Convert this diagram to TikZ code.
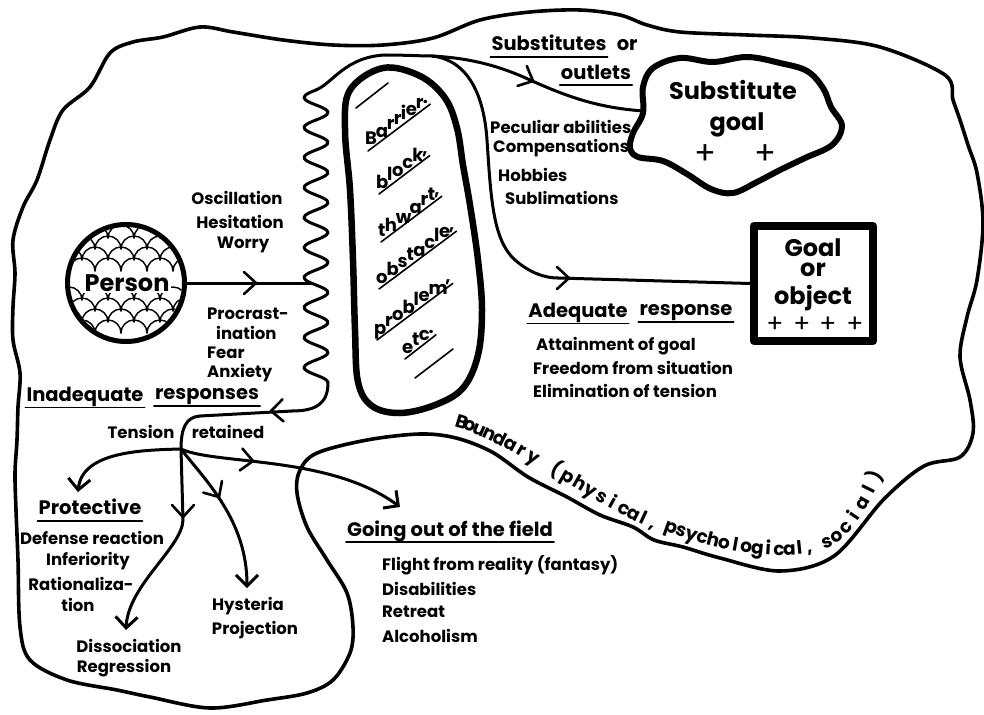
\documentclass[tikz,border=0pt]{standalone}
\usepackage{fontspec}
\setmainfont{Poppins}
\usetikzlibrary{arrows.meta,calc}
\tikzset{
  conn/.style={line width=3pt},
  tipend/.style={-{Straight Barb[length=11pt,width=22pt]}},
  barb/.pic={\draw[line width=2.6pt, line cap=round, line join=round] (-12pt,11pt) .. controls (-6pt,5pt) .. (0pt,0pt) .. controls (-6pt,-5pt) .. (-12pt,-11pt);},
  bndline/.style={line width=3.6pt},
  txts/.style={font=\fontsize{16.5}{19}\selectfont\bfseries, inner sep=1pt},
  txth/.style={font=\fontsize{19.5}{22}\selectfont\bfseries, inner sep=1pt},
  txtb/.style={font=\fontsize{24}{28}\selectfont\bfseries, inner sep=1pt},
  txtp/.style={font=\fontsize{32}{34}\selectfont, inner sep=0pt},
  txtq/.style={font=\fontsize{25}{27}\selectfont, inner sep=0pt},
  txtl/.style={font=\fontsize{18}{22}\selectfont\bfseries, inner sep=0pt},
  bdch/.style={font=\fontsize{18.5}{20}\selectfont\bfseries, inner sep=0pt, sloped, anchor=base},
  uline/.style={line width=1.6pt},
  scalearc/.style={line width=1.4pt},
}
% a word set letter by letter along a rising 36 degree line
\newcommand\stairword[3]{%
  \foreach \ch [count=\ci, remember=\ci as \cj (initially 0)] in {#3}{%
    \ifnum\ci=1
      \node[txtl, anchor=base west] (#1-\ci) at #2 {\ch};
    \else
      \path let \p1=(#1-\cj.base west), \p2=(#1-\cj.base east), \n1={\x2-\x1} in
        node[txtl, anchor=base west] (#1-\ci) at (\x1+0.87*\n1, \y1+0.63*\n1) {\ch};
    \fi
  }%
}
\begin{document}
\begin{tikzpicture}[x=1pt,y=-1pt, line cap=round, line join=round]
\useasboundingbox (0,0) rectangle (984,714);
\fill[white] (0,0) rectangle (984,714);

% outer boundary
\draw[bndline] plot[smooth cycle, tension=0.55] coordinates {
(420,434) (456,438) (492,452) (528,477) (567,497) (600,515) (633,527) (654,540) (683,547) (720,558) (780,571) (834,556) (884,499) (924,466) (960,457) (973,433) (970,400) (960,357) (967,317) (977,280) (983,223) (977,173) (968,145) (960,120) (953,100) (945,75) (880,47) (813,38) (747,35) (680,32) (647,25) (620,15) (580,10) (530,12) (480,20) (433,38) (383,45) (333,45) (283,40) (233,32) (200,27) (163,37) (133,42) (110,53) (90,87) (63,110) (50,140) (37,180) (23,207) (13,240) (15,273) (13,307) (13,340) (20,373) (18,407) (17,440) (15,473) (16,510) (18,560) (20,627) (30,660) (67,680) (117,690) (150,697) (210,708) (267,700) (307,693) (333,680) (350,653) (353,627) (347,593) (327,560) (307,527) (297,493) (300,470) (317,453) (367,440)};

% boundary label, letter by letter along the line
\foreach \c/\k in {B/1,o/2,u/3,n/4,d/5,a/6,r/7,y/8,{(}/10,p/11,h/12,y/13,s/14,i/15,c/16,a/17,l/18,{,}/19}{
  \path (456,427) .. controls (505,440) and (600,508) .. (655,530) node[bdch, pos={(\k-0.5)/19}] {\c};
}
\foreach \c/\k in {p/1,s/2,y/3,c/4,h/5,o/6,l/7,o/8,g/9,i/10,c/11,a/12,l/13,{,}/14}{
  \path (664,531) .. controls (710,548) and (770,562) .. (815,552) node[bdch, pos={(\k-0.5)/14}] {\c};
}
\foreach \c/\k in {s/1,o/2,c/3,i/4,a/5,l/6,{)}/7}{
  \path (824,549) .. controls (850,544) and (872,500) .. (884,472) node[bdch, pos={(\k-0.5)/7}] {\c};
}

% person
\node[circle, draw, line width=5pt, minimum size=117pt, inner sep=0pt] (person) at (126,283) {};
\begin{scope}
  \clip (126,283) circle (56pt);
  \foreach \row in {0,1,2,3}{
    \foreach \col in {0,...,6}{
      \pgfmathsetmacro\xx{56+\col*26+mod(\row,2)*13}
      \pgfmathsetmacro\yy{238+\row*11}
      \draw[scalearc] (\xx,\yy) arc[start angle=180,end angle=0,radius=13pt];
      \pgfmathsetmacro\yb{300+\row*11}
      \draw[scalearc] (\xx,\yb) arc[start angle=180,end angle=0,radius=13pt];
    }
  }
\end{scope}
\node[txtb, fill=white, inner sep=1.5pt] (ptxt) at (127,283) {Person};

% wavy line
\draw[conn] plot[domain=90:382.5, samples=120, smooth] ({316+12*sin(180+12*(\x-90))},\x);
\coordinate (wtop) at (316,90);
\coordinate (wbot) at (328,382.5);
\coordinate (wmid) at (311,283);

% barrier
\draw[line width=6.5pt] plot[smooth cycle, tension=0.6] coordinates {(383,68) (420,76) (445,98) (457,128) (463,165) (470,205) (478,260) (482,310) (478,355) (463,388) (435,405) (400,413) (372,406) (358,382) (355,330) (353,260) (350,190) (345,130) (350,90)};
\stairword{w1}{(365,145)}{B,a,r,r,i,e,r,.}
\stairword{w2}{(376,188)}{b,l,o,c,k,{,}}
\stairword{w3}{(378,236)}{t,h,w,a,r,t,{,}}
\stairword{w4}{(376,283)}{o,b,s,t,a,c,l,e,{,}}
\stairword{w5}{(374,334)}{p,r,o,b,l,e,m,{,}}
\stairword{w6}{(402,353)}{e,t,c,.}
\foreach \w/\last in {w1/8,w2/6,w3/7,w4/9,w5/8,w6/4}{
  \draw[uline] ([shift={(3pt,-6pt)}]\w-1.base west) -- ([shift={(2pt,-1pt)}]\w-\last.base east);
}
\coordinate (s1a) at (356,108); \coordinate (s1b) at (388,83);
\coordinate (s2a) at (415,378); \coordinate (s2b) at (453,349);
\draw[uline] (s1a) -- (s1b);
\draw[uline] (s2a) -- (s2b);

% substitute goal
\draw[line width=6pt] plot[smooth cycle, tension=0.6] coordinates {(643,87) (653,68) (680,58) (713,62) (747,57) (780,63) (807,71) (823,88) (831,107) (842,126) (832,145) (805,158) (780,170) (757,182) (733,193) (711,189) (687,174) (663,161) (638,157) (630,148) (633,133) (643,113)};
\node[txtb] (subt) at (733,90) {Substitute};
\node[txtb] (subg) at (737,125) {goal};
\node[txtp] (sp1) at (705,155) {+};
\node[txtp] (sp2) at (765,155) {+};
\coordinate (subin) at (644,111);

% goal box
\node[draw, line width=8pt, minimum width=119pt, minimum height=115pt, inner sep=0pt] (goal) at (813.5,283.5) {};
\node[txtb, anchor=base] (g1) at (813,256) {Goal};
\node[txtb, anchor=base] (g2) at (813,276) {or};
\node[txtb, anchor=base] (g3) at (813,304) {object};
\node[txtq] (gp1) at (775,325) {+};
\node[txtq] (gp2) at (802,325) {+};
\node[txtq] (gp3) at (828,325) {+};
\node[txtq] (gp4) at (855,325) {+};

% connectors top
\coordinate (split) at (432,56);
\draw[conn] (wtop) .. controls (333,83) and (345,57) .. (385,55) .. controls (405,55) and (420,56) .. (split);
\draw[conn] (split) .. controls (470,58) and (500,66) .. (530,80) .. controls (570,98) and (600,108) .. (subin);
\coordinate (gin) at (558,278);
\draw[conn] (split) .. controls (468,60) and (484,95) .. (487,140) .. controls (491,200) and (493,240) .. (515,260) .. controls (530,273) and (545,278) .. (gin);
\draw[conn] (gin) -- (goal.west);

% person to wave
\draw[conn] (person.east) -- (wmid);

% bottom of wave to junction
\coordinate (ib) at (292,411);
\coordinate (ic) at (200,416);
\coordinate (junc) at (181,449);
\draw[conn] (wbot) .. controls (328,402) and (318,411) .. (ib);
\draw[conn] (ib) -- (ic);
\draw[conn] (ic) .. controls (186,417) and (181,428) .. (junc);

% branches
\coordinate (tprot) at (78,492);
\draw[conn, tipend] (junc) .. controls (140,450) and (82,452) .. (tprot);
\coordinate (dmid) at (183,520);
\coordinate (tdiss) at (126,630);
\draw[conn, tipend] (junc) -- (dmid) .. controls (182,548) and (128,585) .. (tdiss);
\coordinate (thyst) at (247,588);
\draw[conn, tipend] (junc) .. controls (205,480) and (247,520) .. (thyst);
\coordinate (tgoing) at (400,507);
\draw[conn, tipend] (junc) .. controls (215,465) and (330,455) .. (tgoing);

% mid-line arrowheads
\coordinate (a1) at (256,283);
\coordinate (a2) at (533,81);
\coordinate (a3) at (569,278);
\coordinate (a4) at (271,411);
\coordinate (a5) at (183,517);
\coordinate (a6) at (219,497);
\coordinate (a7) at (253,461);
\pic[rotate=0] at (a1) {barb};
\pic[rotate=-25] at (a2) {barb};
\pic[rotate=0] at (a3) {barb};
\pic[rotate=183] at (a4) {barb};
\pic[rotate=-90] at (a5) {barb};
\pic[rotate=-58] at (a6) {barb};
\pic[rotate=-7] at (a7) {barb};

% texts
\node[txts] (osc) at (237,198) {Oscillation};
\node[txts] (hes) at (240,222) {Hesitation};
\node[txts] (wor) at (243,245) {Worry};
\node[txts, anchor=west] (pro) at (206,314) {Procrast-};
\node[txts, anchor=west] (ina) at (215,333) {ination};
\node[txts, anchor=west] (fea) at (206,353) {Fear};
\node[txts, anchor=west] (anx) at (206,373) {Anxiety};

\node[txth] (inad) at (85,397) {Inadequate};
\node[txth] (resp) at (207,397) {responses};
\node[txts] (ten) at (141,432) {Tension};
\node[txts] (ret) at (228,432) {retained};

\node[txth] (prot) at (90,507) {Protective};
\node[txts] (def) at (92,538) {Defense reaction};
\node[txts] (inf) at (88,561) {Inferiority};
\node[txts] (rat) at (81,584) {Rationaliza-};
\node[txts] (tio) at (78,605) {tion};
\node[txts] (dis) at (129,646) {Dissociation};
\node[txts] (reg) at (124,668) {Regression};
\node[txts] (hys) at (248,606) {Hysteria};
\node[txts] (proj) at (255,630) {Projection};

\node[txth] (going) at (450,531) {Going out of the field};
\node[txts, anchor=west] (fl) at (381,565) {Flight from reality (fantasy)};
\node[txts, anchor=west] (db) at (381,589) {Disabilities};
\node[txts, anchor=west] (rt) at (381,612) {Retreat};
\node[txts, anchor=west] (al) at (381,636) {Alcoholism};

\node[txth] (adeq) at (578,313) {Adequate};
\node[txth] (resp2) at (686,313) {response};
\node[txts, anchor=west] (att) at (535,346) {Attainment of goal};
\node[txts, anchor=west] (fre) at (532,368) {Freedom from situation};
\node[txts, anchor=west] (eli) at (532,391) {Elimination of tension};

\node[txth] (subs) at (549,43) {Substitutes};
\node[txth, anchor=base west] (subor) at ([xshift=8pt]subs.base east) {or};
\node[txth] (outl) at (596,72) {outlets};
\node[txts, anchor=west] (pec) at (489,127) {Peculiar abilities};
\node[txts, anchor=west] (com) at (492,148) {Compensations};
\node[txts, anchor=west] (hob) at (497,175) {Hobbies};
\node[txts, anchor=west] (sbl) at (504,198) {Sublimations};

% underlines
\foreach \n in {inad,resp,prot,going,adeq,resp2,subs,outl}{
  \draw[uline] ([yshift=-6pt]\n.base west) -- ([yshift=-6pt]\n.base east);
}
\end{tikzpicture}
\end{document}
